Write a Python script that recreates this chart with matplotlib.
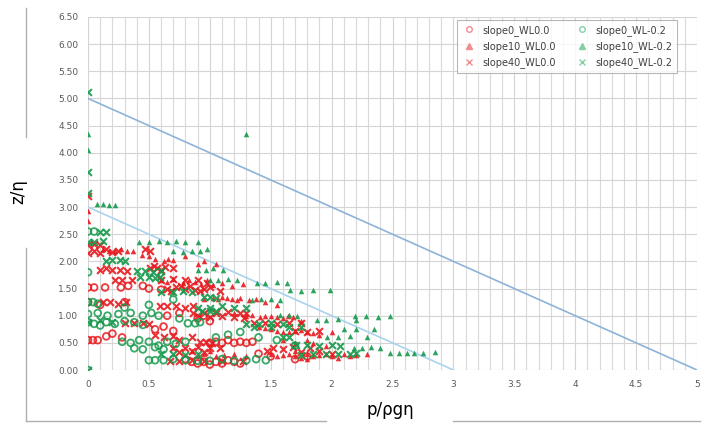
import matplotlib
matplotlib.use("Agg")
import matplotlib.pyplot as plt
from matplotlib.lines import Line2D
from matplotlib.ticker import MultipleLocator, FormatStrFormatter, FuncFormatter

# ---- data: (p/rho g eta, z/eta) ----
slope0_wl00 = [(0, 0.55), (0.04, 0.55), (0.08, 0.55), (0.15, 0.62), (0.2, 0.67), (0.28, 0.6),
               (0, 1.52), (0.05, 1.52), (0.14, 1.52), (0.27, 1.52), (0.33, 1.55),
               (0, 1.25), (0.1, 1.2), (0.3, 1.25), (0.55, 0.75), (0.62, 0.8), (0.7, 0.72),
               (0.8, 0.2), (0.85, 0.15), (0.9, 0.12), (0.95, 0.15), (1.0, 0.1), (1.05, 0.15),
               (1.1, 0.12), (1.15, 0.18), (1.2, 0.15), (1.25, 0.12),
               (1.0, 0.5), (1.05, 0.52), (1.1, 0.5), (1.15, 0.55), (1.2, 0.5), (1.25, 0.52),
               (1.3, 0.5), (1.35, 0.52), (0.9, 0.95), (0.95, 1.0), (1.0, 0.9), (0.75, 1.05),
               (0.65, 1.0), (0.45, 1.55), (0.5, 1.5), (0.6, 1.48),
               (1.4, 0.3), (1.5, 0.25), (1.7, 0.2), (1.8, 0.25)]

slope10_wl00 = [(0, 2.75), (0, 2.92), (0.12, 2.22), (0.17, 2.2), (0.22, 2.2), (0.27, 2.22),
                (0.32, 2.2), (0.37, 2.2), (0.5, 2.1), (0.55, 2.05), (0.62, 2.0), (0.7, 2.03),
                (0.8, 2.1), (0.9, 1.95), (0.95, 2.0), (1.05, 1.95), (0.44, 2.12), (0.66, 2.05),
                (0.6, 1.65), (0.7, 1.68), (0.78, 1.6), (0.88, 1.62), (0.98, 1.65), (1.03, 1.57),
                (1.1, 1.6), (1.18, 1.55), (1.27, 1.58), (0.65, 1.62), (0.83, 1.65), (0.93, 1.58),
                (0.95, 1.3), (1.03, 1.33), (1.1, 1.35), (1.18, 1.3), (1.25, 1.33), (1.32, 1.28),
                (1.45, 1.25), (1.55, 1.2), (1.07, 1.3), (1.14, 1.32), (1.22, 1.28), (1.38, 1.3),
                (1.2, 1.05), (1.3, 1.0), (1.41, 0.98), (1.5, 1.0), (1.6, 0.95), (1.68, 0.98), (1.75, 0.9),
                (1.35, 1.02), (1.45, 1.0), (1.55, 0.98), (1.64, 1.0),
                (1.4, 0.8), (1.5, 0.75), (1.6, 0.7), (1.7, 0.72), (1.8, 0.7), (1.9, 0.65), (2.0, 0.7),
                (1.45, 0.78), (1.55, 0.72), (1.65, 0.7), (1.75, 0.73), (1.85, 0.68),
                (1.6, 0.55), (1.7, 0.5), (1.8, 0.55), (1.85, 0.5), (1.95, 0.45),
                (1.5, 0.3), (1.6, 0.28), (1.7, 0.25), (1.8, 0.3), (1.9, 0.28), (2.0, 0.25),
                (2.1, 0.3), (2.2, 0.28), (2.29, 0.3), (1.55, 0.25), (1.65, 0.3), (1.75, 0.22),
                (1.85, 0.25), (1.95, 0.3), (2.05, 0.22), (2.15, 0.25), (1.7, 0.35), (1.8, 0.2),
                (0.85, 0.35), (0.95, 0.3), (1.05, 0.25), (1.2, 0.3), (0.9, 0.25), (1.0, 0.35),
                (1.12, 0.28), (1.3, 0.25)]

slope40_wl00 = [(0, 3.2), (0, 2.3), (0.05, 2.32), (0.1, 2.3), (0.47, 2.22), (0.51, 2.2),
                (0, 2.15), (0.05, 2.2), (0.1, 2.15), (0.15, 2.22), (0.2, 2.18), (0.25, 2.2),
                (0.1, 1.85), (0.15, 1.87), (0.2, 1.85), (0.26, 1.85), (0.32, 1.83),
                (0.51, 1.88), (0.57, 1.88), (0.63, 1.9), (0.7, 1.87), (0.54, 1.92), (0.6, 1.85),
                (0.22, 1.66), (0.28, 1.66), (0.36, 1.66), (0.6, 1.66), (0.7, 1.68), (0.8, 1.66),
                (0.9, 1.66), (0.98, 1.6),
                (0.65, 1.5), (0.72, 1.52), (0.8, 1.5), (0.88, 1.48), (0.95, 1.5), (1.08, 1.45),
                (0.68, 1.46), (0.76, 1.55), (0.84, 1.54), (0.92, 1.45), (1.0, 1.52),
                (0.12, 1.25), (0.18, 1.25), (0.25, 1.22), (0.31, 1.25),
                (0.59, 1.17), (0.65, 1.17), (0.72, 1.17), (0.8, 1.15), (0.86, 1.17),
                (0.86, 1.05), (0.95, 1.05), (1.05, 1.05), (1.15, 1.07), (1.25, 1.05), (1.3, 1.05),
                (0.9, 1.0), (1.0, 0.98), (1.1, 1.0), (1.2, 0.97), (1.28, 0.95),
                (0.3, 0.86), (0.38, 0.86), (0.45, 0.86), (0.5, 0.85),
                (0.55, 0.65), (0.62, 0.6), (0.7, 0.62), (0.75, 0.55), (0.85, 0.6),
                (1.36, 0.86), (1.45, 0.86), (1.55, 0.85), (1.65, 0.86), (1.75, 0.86),
                (1.7, 0.71), (1.8, 0.7), (1.9, 0.71),
                (0.7, 0.4), (0.8, 0.4), (0.9, 0.42), (1.0, 0.4), (1.08, 0.4),
                (0.75, 0.33), (0.85, 0.35), (0.95, 0.33),
                (0.67, 0.17), (0.75, 0.17), (0.85, 0.18), (0.95, 0.17), (1.1, 0.17), (1.27, 0.17),
                (1.47, 0.35), (1.6, 0.38), (1.75, 0.33), (1.9, 0.35), (2.0, 0.3),
                (1.52, 0.4), (1.68, 0.42), (1.82, 0.4),
                (0.92, 0.52), (0.97, 0.52), (1.02, 0.5)]

slope0_wlm02 = [(0, 2.55), (0.05, 2.55), (0, 1.8), (0, 1.25), (0.04, 1.25), (0.08, 1.22),
                (0, 0.88), (0.05, 0.85), (0.1, 0.82), (0.15, 0.88), (0.22, 0.85), (0.3, 0.9),
                (0.38, 0.88), (0.45, 0.83),
                (0, 1.03), (0.08, 1.05), (0.16, 1.0), (0.25, 1.03), (0.35, 1.05), (0.45, 1.0),
                (0.52, 1.05), (0.58, 1.0),
                (0.28, 0.52), (0.35, 0.5), (0.42, 0.55), (0.5, 0.52), (0.58, 0.45), (0.65, 0.52),
                (0.72, 0.48), (0.8, 0.52), (0.38, 0.4), (0.45, 0.38), (0.55, 0.42), (0.62, 0.38),
                (0.5, 0.18), (0.55, 0.18), (0.62, 0.18), (0.7, 0.2), (0.8, 0.18), (0.9, 0.17),
                (1.0, 0.17), (1.1, 0.2), (1.2, 0.17), (1.3, 0.18), (1.38, 0.2), (1.46, 0.18),
                (0.82, 0.86), (0.88, 0.86), (0.92, 0.88), (0.75, 0.95),
                (1.05, 0.6), (1.15, 0.65), (1.25, 0.7), (1.4, 0.6), (1.55, 0.55), (1.7, 0.45),
                (0.3, 1.15), (0.5, 1.2), (0.7, 1.3), (0, 0)]

slope10_wlm02 = [(0, 4.35), (0, 4.05), (1.3, 4.35), (0.07, 3.05), (0.12, 3.05), (0.17, 3.03), (0.22, 3.04),
                 (0.42, 2.36), (0.5, 2.35), (0.58, 2.38), (0.65, 2.35), (0.72, 2.37), (0.8, 2.35), (0.9, 2.36),
                 (0.7, 2.2), (0.78, 2.18), (0.85, 2.2), (0.92, 2.2), (0.98, 2.22),
                 (0.9, 1.85), (0.97, 1.85), (1.03, 1.87), (1.11, 1.85),
                 (1.0, 1.66), (1.07, 1.66), (1.15, 1.68), (1.22, 1.65),
                 (1.39, 1.6), (1.45, 1.6), (1.55, 1.62), (1.63, 1.6),
                 (1.35, 1.29), (1.42, 1.3), (1.5, 1.3), (1.58, 1.29),
                 (1.66, 1.47), (1.75, 1.45), (1.85, 1.48), (1.99, 1.47),
                 (1.58, 1.01), (1.65, 1.01), (1.72, 1.0),
                 (2.19, 1.0), (2.28, 1.0), (2.38, 0.98), (2.48, 1.0),
                 (1.88, 0.92), (1.95, 0.92), (2.05, 0.93), (2.2, 0.92),
                 (1.96, 0.6), (2.05, 0.6), (2.15, 0.62), (2.29, 0.6),
                 (2.1, 0.75), (2.2, 0.75), (2.35, 0.75),
                 (2.18, 0.4), (2.25, 0.4), (2.32, 0.42), (2.4, 0.4),
                 (2.48, 0.31), (2.55, 0.31), (2.62, 0.32), (2.68, 0.31), (2.75, 0.31), (2.85, 0.33)]

slope40_wlm02 = [(0, 5.12), (0, 3.65), (0, 3.26), (0.1, 2.55), (0.15, 2.55), (0, 2.35), (0.05, 2.35),
                 (0.12, 2.38), (0.26, 2.03), (0.15, 2.0), (0.2, 2.03), (0.3, 2.0),
                 (0.4, 1.82), (0.47, 1.82), (0.53, 1.8), (0.6, 1.82),
                 (0.43, 1.71), (0.5, 1.71), (0.55, 1.7), (0.59, 1.72),
                 (0.6, 1.43), (0.7, 1.43), (0.78, 1.45), (0.85, 1.43),
                 (0.95, 1.35), (1.0, 1.35), (1.05, 1.33),
                 (0.9, 1.15), (1.0, 1.15), (1.1, 1.18), (1.2, 1.15), (1.3, 1.15),
                 (0.94, 1.08), (1.0, 1.08), (1.05, 1.08),
                 (0, 0.88), (0.1, 0.92), (0.2, 0.88),
                 (1.3, 0.85), (1.4, 0.85), (1.5, 0.86), (1.6, 0.85),
                 (1.36, 0.8), (1.5, 0.8), (1.65, 0.8), (1.75, 0.8),
                 (1.6, 0.6), (1.65, 0.6),
                 (1.71, 0.46), (1.8, 0.46), (1.9, 0.45), (2.0, 0.46), (2.07, 0.45),
                 (1.75, 0.28), (1.85, 0.3), (1.95, 0.3), (2.05, 0.3), (2.15, 0.3), (2.2, 0.32),
                 (0.6, 0.3), (0.7, 0.3), (0.8, 0.28), (0.9, 0.3), (0, 0)]

# reference lines
line_5_x = [0, 5]
line_5_y = [5, 0]
line_3_x = [0, 3]
line_3_y = [3, 0]

x_ticks = [0, 0.5, 1, 1.5, 2, 2.5, 3, 3.5, 4, 4.5, 5]

RED = '#e8191e'
GREEN = '#159a4c'

fig = plt.figure(figsize=(7.08, 4.28), dpi=100)
ax = fig.add_axes([88 / 708, 1 - 370 / 428, 609 / 708, 353 / 428])

ax.plot(line_5_x, line_5_y, color='#8db3d8', lw=1.2, zorder=2)
ax.plot(line_3_x, line_3_y, color='#a9d3ee', lw=1.2, zorder=2)

series = [
    (slope0_wl00, 'o', RED, 'slope0_WL0.0'),
    (slope10_wl00, '^', RED, 'slope10_WL0.0'),
    (slope40_wl00, 'x', RED, 'slope40_WL0.0'),
    (slope0_wlm02, 'o', GREEN, 'slope0_WL-0.2'),
    (slope10_wlm02, '^', GREEN, 'slope10_WL-0.2'),
    (slope40_wlm02, 'x', GREEN, 'slope40_WL-0.2'),
]

handles = []
for pts, mk, col, name in series:
    xs = [p[0] for p in pts]
    ys = [p[1] for p in pts]
    if mk == 'o':
        ax.scatter(xs, ys, s=24, facecolors='none', edgecolors=col, linewidths=1.3, alpha=0.85, zorder=3)
    elif mk == '^':
        ax.scatter(xs, ys, s=16, marker='^', color=col, alpha=0.9, linewidths=0, zorder=3)
    else:
        ax.scatter(xs, ys, s=24, marker='x', color=col, linewidths=1.5, alpha=0.9, zorder=3)
    light = '#f08c8c' if col == RED else '#86cfa6'
    if mk == 'o':
        h = Line2D([], [], ls='none', marker='o', markersize=4, markerfacecolor='none',
                   markeredgecolor=light, markeredgewidth=1.0)
    else:
        h = Line2D([], [], ls='none', marker=mk, markersize=4, color=light, markeredgewidth=1.0)
    handles.append((h, name))

ax.set_xlim(0, 5)
ax.set_ylim(0, 6.5)
ax.set_xticks(x_ticks)
ax.xaxis.set_minor_locator(MultipleLocator(0.1))
ax.xaxis.set_major_formatter(FuncFormatter(lambda v, p: '%g' % v))
ax.yaxis.set_major_locator(MultipleLocator(0.5))
ax.yaxis.set_major_formatter(FormatStrFormatter('%.2f'))
ax.grid(True, which='major', color='#d4d4d4', lw=0.8)
ax.grid(True, which='minor', axis='x', color='#d9d9d9', lw=0.8)
ax.set_axisbelow(True)
for sp in ax.spines.values():
    sp.set_visible(False)
ax.tick_params(which='both', length=0, labelsize=6.5, colors='#595959', pad=7)

leg = ax.legend([h for h, n in handles], [n for h, n in handles], ncol=2,
                loc='upper left', bbox_to_anchor=(452 / 708, 1 - 15 / 428),
                bbox_transform=fig.transFigure, fontsize=7, frameon=True, fancybox=False,
                borderpad=0.5, labelspacing=0.55, handletextpad=0.6, columnspacing=2.0,
                handlelength=1.5)
leg.get_frame().set_edgecolor('#a6a6a6')
leg.get_frame().set_linewidth(0.8)
for t in leg.get_texts():
    t.set_color('#404040')

fig.text(18 / 708, 1 - 192 / 428, 'z/η', rotation=90, fontsize=12, ha='center', va='center')
fig.text(390 / 708, 1 - 410 / 428, 'p/ρgη', fontsize=12, ha='center', va='center')

# outer frame pieces broken by the axis titles
fig.add_artist(Line2D([26 / 708, 26 / 708], [1 - 8 / 428, 1 - 137 / 428], color='#b0b0b0', lw=1))
fig.add_artist(Line2D([26 / 708, 26 / 708], [1 - 248 / 428, 1 - 421 / 428], color='#b0b0b0', lw=1))
fig.add_artist(Line2D([26 / 708, 326 / 708], [1 - 421 / 428, 1 - 421 / 428], color='#b0b0b0', lw=1))
fig.add_artist(Line2D([453 / 708, 700 / 708], [1 - 421 / 428, 1 - 421 / 428], color='#b0b0b0', lw=1))

fig.savefig('out.png', dpi=100)
